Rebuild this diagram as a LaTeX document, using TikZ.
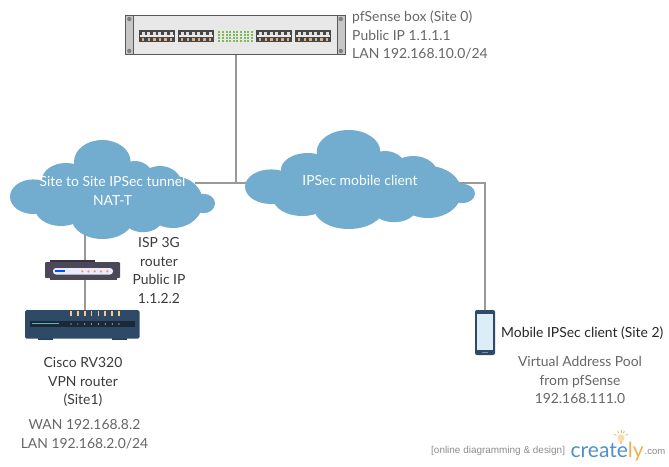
\documentclass[tikz,border=0pt]{standalone}
\usepackage{fontspec}
\usetikzlibrary{calc}
\setmainfont{Lato}
\newfontfamily\arialf{Liberation Sans}
\definecolor{cloudc}{HTML}{72ACCF}
\definecolor{linec}{HTML}{999999}
\definecolor{txtd}{HTML}{3A3A3A}
\definecolor{txtg}{HTML}{666666}
\definecolor{navy}{HTML}{2F4A66}
\definecolor{ispc}{HTML}{4C4857}
\definecolor{ispd}{HTML}{363345}
\definecolor{crblue}{HTML}{4F8FCB}
\definecolor{cror}{HTML}{F2B04B}
\definecolor{ledg}{HTML}{7DBB5A}
\definecolor{porto}{HTML}{E0B080}
\definecolor{screenc}{HTML}{DBEEF8}
\tikzset{
  wire/.style={draw=linec,line width=2pt},
  lab/.style={inner sep=0pt,align=center,font=\fontsize{13.9}{18.9}\selectfont,text=txtd},
  labg/.style={lab,text=txtg},
  cloudtext/.style={lab,text=white},
}
\newcommand{\cloudblob}[3]{%
 \begin{scope}[shift={(#1,#2)},xscale=#3]
  \fill[cloudc] (23.3,56.7) ellipse (23.3 and 17.3);
  \fill[cloudc] (92.3,21.7) ellipse (28.3 and 21.7);
  \fill[cloudc] (56,40) ellipse (24 and 17);
  \fill[cloudc] (125,42) ellipse (20 and 21);
  \fill[cloudc] (150,45) ellipse (22 and 19);
  \fill[cloudc] (163,62) ellipse (30 and 26);
  \fill[cloudc] (193.5,63.5) ellipse (11.5 and 9.7);
  \fill[cloudc] (92.5,78) ellipse (31 and 21);
  \fill[cloudc] (51,68) ellipse (26 and 18);
  \fill[cloudc] (133,77.7) ellipse (20 and 14.5);
  \fill[cloudc] (100,55) ellipse (75 and 28);
 \end{scope}}
\begin{document}
\begin{tikzpicture}[x=1pt,y=-1pt]
\useasboundingbox (0,0) rectangle (669,466);
% anchors for connectors
\node[inner sep=0pt,minimum width=221pt,minimum height=40pt] (pf) at (235.5,35) {};
\node[inner sep=0pt,minimum width=75pt,minimum height=16pt] (isp) at (82.5,270) {};
\node[inner sep=0pt,minimum width=114pt,minimum height=28pt] (cisco) at (82,324) {};
\node[inner sep=0pt,minimum width=20pt,minimum height=45pt] (phone) at (485,332.5) {};
\coordinate (c1e) at (195,182.5);
\coordinate (c1s) at (85,230);
\coordinate (c2w) at (255,182.5);
\coordinate (c2e) at (455,182.5);
\coordinate (j) at (235.5,182.5);
\coordinate (bend) at (485,182.5);
% wires
\draw[wire] (pf.south) -- (j);
\draw[wire] (c1e) -- (c2w);
\draw[wire] (c2e) -- (bend) -- (phone.north);
\draw[wire] (c1s) -- (isp.north -| c1s);
\draw[wire] (isp.south -| c1s) -- (cisco.north -| c1s);
% clouds
\cloudblob{10}{140}{1}
\cloudblob{245}{130}{1.122}
\node[cloudtext] (c1) at (112.5,191) {Site to Site IPSec tunnel\\NAT-T};
\node[cloudtext] (c2) at (360,180) {IPSec mobile client};
% pfSense box
\fill[black!9] (125,15) rectangle (346,55);
\draw[line width=1pt,draw=black!65] (125.5,15.5) rectangle (345.5,54.5);
\fill[black!22] (126,16) rectangle (133,54);
\fill[black!22] (337.5,16) rectangle (345,54);
\draw[line width=.7pt,black!65] (133.5,15.5) -- (133.5,54.5) (337,15.5) -- (337,54.5);
\foreach \px/\py in {129.3/19,129.3/51,340.8/19,340.8/51}
  \fill[black!50] (\px,\py) circle (2.2);
\foreach \gx in {139,178,256,295}{
  \fill[black!72] (\gx,30) rectangle ++(36,12);
  \fill[black!8] (\gx+1,35) rectangle ++(34,2.4);
  \foreach \k in {0,...,5}{
    \fill[black!12] (\gx+2.5+5.6*\k,31.5) rectangle ++(3,3);
    \fill[porto] (\gx+3+5.6*\k,37.6) rectangle ++(2.4,3);
  }
}
\foreach \k in {0,...,9} \foreach \r in {0,...,3}
  \fill[ledg] (218.3+3.6*\k,31+3*\r) rectangle ++(2,2);
% ISP router
\fill[ispd] (50,260) rectangle (95,263);
\fill[rounded corners=1pt,ispc] (45,262) rectangle (120,278);
\fill[ispc] (49.5,278) rectangle (116.5,280);
\fill[rounded corners=3pt,white!92!blue] (53,268) rectangle (113,274.5);
\fill[blue!70!cyan] (55,269.8) rectangle (65,272.3);
\foreach \dx in {82.3,88.5,94.7,101,107.3}
  \fill[orange!80!red!70!white] (\dx,271.3) circle (1.2);
% Cisco
\fill[navy!85!black] (38,337) rectangle (53,340);
\fill[navy!85!black] (112,337) rectangle (127,340);
\fill[rounded corners=1.5pt,navy] (25,310) rectangle (139.5,338.5);
\fill[navy!55!black] (30,320.7) rectangle (135,326.7);
\fill[teal!60!white] (32,323.2) rectangle (59,324.3);
\foreach \k in {0,...,7}{
  \fill[orange!45!white] (71-0.9+6.86*\k,311) rectangle ++(1.8,5);
  \fill[white] (71+6.86*\k,324) circle (0.6);
}
% phone
\fill[rounded corners=2pt,navy] (475,310) rectangle (495,355);
\fill[screenc] (477.3,314) rectangle (493.3,350);
\fill[black!30!cyan!40!gray] (482,351.5) rectangle (488,353);
% labels
\node[labg,anchor=west,align=left] (pfl) at (352,35) {pfSense box (Site 0)\\Public IP 1.1.1.1\\LAN 192.168.10.0/24};
\node[lab] (ispl) at (159,270.5) {ISP 3G\\router\\Public IP\\1.1.2.2};
\node[lab] (ciscol) at (83,382) {Cisco RV320\\VPN router\\(Site1)};
\node[labg] (wan) at (84.5,434.5) {WAN 192.168.8.2\\LAN 192.168.2.0/24};
\node[lab,anchor=west,text=black!85] (mob) at (501,333) {Mobile IPSec client (Site 2)};
\node[labg] (virt) at (580,380) {Virtual Address Pool\\from pfSense\\192.168.111.0};
% watermark
\fill[cror!45!white] (621,438) circle (3.6);
\fill[cror!70!white] (619.7,441) rectangle (622.3,444);
\foreach \a in {-150,-115,-90,-65,-30}
  \draw[cror,line width=.7pt] ($(621,438)+(\a:5.2)$) -- ($(621,438)+(\a:7.8)$);
\node[inner sep=0pt,anchor=west,text=black!45,font=\arialf\fontsize{9.95}{11}\selectfont] (on) at (431,450.5) {[online diagramming \& design]};
\node[inner sep=0pt,anchor=base west,font=\fontsize{21}{23}\selectfont] (cr) at (570.5,457) {\textcolor{crblue}{create}\textcolor{cror}{ly}};
\node[inner sep=0pt,anchor=west,text=black!45,font=\arialf\fontsize{9.5}{10}\selectfont] (com) at (644.5,452) {.com};
\end{tikzpicture}
\end{document}
